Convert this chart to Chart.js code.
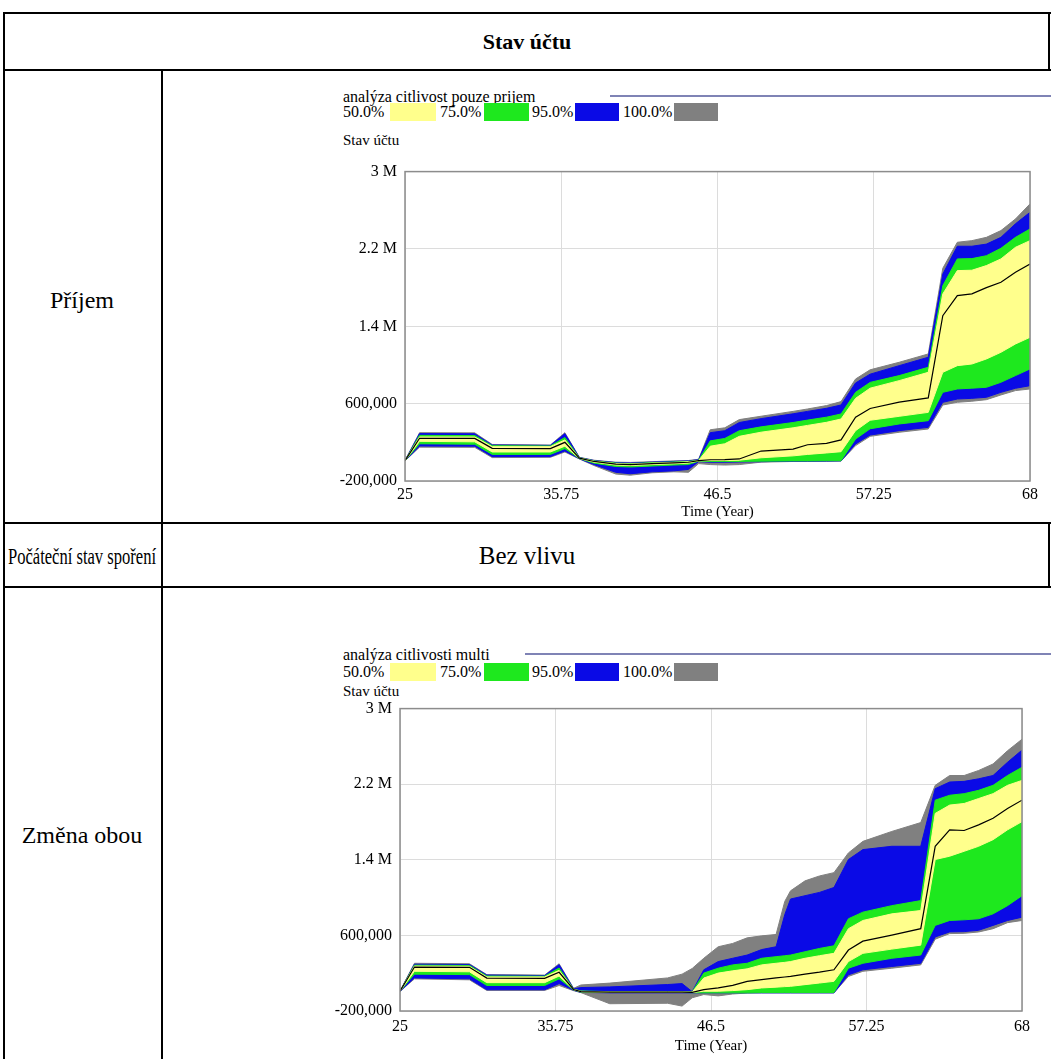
<!DOCTYPE html>
<html>
<head>
<meta charset="utf-8">
<script src="https://cdn.jsdelivr.net/npm/chart.js@4.4.1/dist/chart.umd.min.js"></script>
<style>
  body { margin: 0; background: #fff; font-family: "Liberation Serif", "DejaVu Serif", serif; }
  #page { position: relative; width: 1051px; height: 1059px; overflow: hidden; background: #fff; }
  .ln { position: absolute; background: #000; }
  .cell { position: absolute; font-size: 24px; color: #000; white-space: nowrap; transform: translate(-50%, -50%); }
  .small { position: absolute; font-size: 16px; color: #000; white-space: nowrap; transform: translateY(-50%); }
  .box { position: absolute; }
  .leg { position: absolute; height: 2px; background: #7f83b5; }
  .wrap { position: absolute; }
</style>
</head>
<body>
<div id="page">
  <!-- table lines -->
  <div class="ln" style="left:3px; top:12px; width:1048px; height:2px;"></div>
  <div class="ln" style="left:3px; top:69px; width:1048px; height:2px;"></div>
  <div class="ln" style="left:3px; top:522px; width:1048px; height:2px;"></div>
  <div class="ln" style="left:3px; top:586px; width:1048px; height:2px;"></div>
  <div class="ln" style="left:3px; top:12px; width:2px; height:1047px;"></div>
  <div class="ln" style="left:161px; top:70px; width:2px; height:989px;"></div>
  <div class="ln" style="left:1048px; top:12px; width:2px; height:59px;"></div>
  <div class="ln" style="left:1048px; top:522px; width:2px; height:66px;"></div>

  <div class="cell" style="left:527px; top:42px; font-weight:bold; font-size:22px;">Stav účtu</div>
  <div class="cell" style="left:82px; top:300px;">Příjem</div>
  <div class="cell" style="left:82px; top:556px; transform: translate(-50%, -50%) scaleX(0.69);">Počáteční stav spoření</div>
  <div class="cell" style="left:527px; top:556px; font-size:25px;">Bez vlivu</div>
  <div class="cell" style="left:82px; top:835px;">Změna obou</div>

  <!-- chart 1 header -->
  <div class="small" style="left:343px; top:97px;">analýza citlivost pouze prijem</div>
  <div class="leg" style="left:610px; top:95px; width:441px;"></div>
  <div class="small" style="left:343px; top:112px;">50.0%</div>
  <div class="box" style="left:390px; top:103px; width:46px; height:18px; background:#ffff8c;"></div>
  <div class="small" style="left:440px; top:112px;">75.0%</div>
  <div class="box" style="left:484px; top:103px; width:45px; height:18px; background:#1ee81e;"></div>
  <div class="small" style="left:532px; top:112px;">95.0%</div>
  <div class="box" style="left:575px; top:103px; width:44px; height:18px; background:#0a0ae6;"></div>
  <div class="small" style="left:623px; top:112px;">100.0%</div>
  <div class="box" style="left:674px; top:103px; width:44px; height:18px; background:#808080;"></div>
  <div class="small" style="left:343px; top:140px; font-size:15px;">Stav účtu</div>
  <div class="wrap" style="left:330px; top:154px; width:715px; height:371px;"><canvas id="c1"></canvas></div>

  <!-- chart 2 header -->
  <div class="small" style="left:343px; top:655px;">analýza citlivosti multi</div>
  <div class="leg" style="left:525px; top:653px; width:526px;"></div>
  <div class="small" style="left:343px; top:672px;">50.0%</div>
  <div class="box" style="left:390px; top:663px; width:46px; height:18px; background:#ffff8c;"></div>
  <div class="small" style="left:440px; top:672px;">75.0%</div>
  <div class="box" style="left:484px; top:663px; width:45px; height:18px; background:#1ee81e;"></div>
  <div class="small" style="left:532px; top:672px;">95.0%</div>
  <div class="box" style="left:575px; top:663px; width:44px; height:18px; background:#0a0ae6;"></div>
  <div class="small" style="left:623px; top:672px;">100.0%</div>
  <div class="box" style="left:674px; top:663px; width:44px; height:18px; background:#808080;"></div>
  <div class="small" style="left:343px; top:691px; font-size:15px;">Stav účtu</div>
  <div class="wrap" style="left:325px; top:691px; width:712px; height:368px;"><canvas id="c2"></canvas></div>
</div>

<script>
// values in thousands
const xTicks = [25, 35.75, 46.5, 57.25, 68];
const yTicks = [-200, 600, 1400, 2200, 3000];
const yTickLabels = ['-200,000', '600,000', '1.4 M', '2.2 M', '3 M'];

// Příjem
const t1 = [25, 26, 29.8, 31, 35, 36, 37, 38, 39.5, 40.5, 42, 43.5, 44.5, 45.2, 46, 47, 48, 49.5, 51.7, 52.7, 54, 55, 56, 57, 59, 61, 62, 63, 64, 65, 66, 67, 68];
const p1hi100 = [12, 300, 298, 178, 172, 300, 45, 15, -5, -8, 0, 8, 12, 25, 330, 350, 435, 470, 520, 545, 580, 621, 855, 950, 1028, 1114, 2000, 2269, 2286, 2320, 2390, 2510, 2666];
const p1hi95 = [11, 290, 288, 172, 168, 290, 42, 12, -10, -14, -5, 3, 8, 20, 300, 320, 405, 445, 495, 520, 552, 586, 814, 905, 993, 1080, 1940, 2228, 2228, 2250, 2320, 2460, 2579];
const p1hi75 = [10, 272, 270, 165, 162, 250, 40, 8, -15, -20, -10, -3, 2, 15, 215, 240, 320, 360, 405, 430, 460, 493, 717, 820, 890, 976, 1820, 2097, 2100, 2130, 2207, 2320, 2407];
const p1hi50 = [10, 255, 255, 155, 155, 225, 38, 5, -20, -25, -15, -8, -2, 12, 160, 185, 262, 305, 350, 375, 407, 441, 655, 760, 838, 924, 1735, 1976, 1980, 2028, 2097, 2217, 2286];
const p1med = [10, 242, 240, 138, 135, 200, 36, 2, -25, -30, -20, -12, -6, 10, 20, 22, 28, 110, 130, 175, 190, 225, 460, 550, 615, 660, 1510, 1717, 1735, 1800, 1855, 1959, 2045];
const p1lo50 = [10, 210, 205, 100, 100, 160, 34, -5, -35, -40, -30, -22, -15, 8, 12, 12, 15, 40, 60, 75, 90, 103, 321, 428, 469, 510, 924, 993, 1010, 1062, 1131, 1217, 1286];
const p1lo75 = [9, 185, 180, 75, 75, 135, 32, -15, -50, -55, -45, -35, -30, 5, 2, 2, 2, 5, 8, 8, 10, 10, 234, 340, 390, 424, 717, 752, 760, 769, 821, 890, 959];
const p1lo95 = [8, 162, 160, 52, 52, 110, 30, -30, -110, -125, -105, -95, -80, 0, -5, -5, -3, 0, 5, 5, 6, 8, 183, 275, 321, 355, 614, 648, 655, 666, 717, 759, 786];
const p1lo100 = [8, 150, 148, 42, 45, 100, 28, -40, -128, -140, -115, -105, -110, -20, -30, -35, -30, -5, 2, 3, 4, 6, 166, 262, 304, 338, 586, 614, 625, 641, 690, 735, 752];

// Změna obou
const t2 = [25, 26, 29.8, 31, 35, 36, 37, 37.5, 39.5, 43.5, 44.5, 45.2, 46, 47, 48, 49, 50, 51, 51.6, 52, 53, 54, 55, 56, 57, 59, 61, 62, 63, 64, 65, 66, 67, 68];
const p2hi100 = [12, 305, 300, 185, 180, 300, 40, 75, 95, 150, 190, 250, 358, 480, 515, 574, 595, 610, 960, 1072, 1177, 1229, 1264, 1473, 1595, 1700, 1794, 2188, 2292, 2292, 2345, 2414, 2554, 2676];
const p2hi95 = [11, 295, 292, 180, 175, 290, 35, 48, 55, 80, 90, 5, 236, 323, 358, 392, 450, 480, 820, 985, 1020, 1055, 1107, 1403, 1508, 1543, 1543, 2153, 2223, 2230, 2257, 2292, 2432, 2561];
const p2hi75 = [10, 285, 282, 170, 168, 255, 32, 12, 5, 5, 5, 2, 201, 253, 288, 305, 358, 375, 385, 392, 427, 462, 490, 776, 846, 915, 968, 2031, 2083, 2100, 2135, 2188, 2292, 2379];
const p2hi50 = [10, 275, 272, 160, 160, 230, 30, 8, 2, 2, 2, 0, 149, 201, 225, 246, 288, 305, 315, 323, 358, 385, 410, 671, 758, 828, 863, 1891, 1979, 1996, 2048, 2100, 2188, 2240];
const p2med = [10, 265, 262, 148, 145, 210, 28, 5, 0, 0, 0, -2, 26, 44, 72, 114, 131, 150, 160, 166, 190, 211, 236, 445, 539, 602, 671, 1543, 1717, 1710, 1770, 1839, 1944, 2031];
const p2lo50 = [10, 220, 215, 100, 100, 170, 26, 3, -2, -2, -2, -4, 9, 9, 16, 26, 44, 52, 58, 61, 79, 96, 114, 323, 410, 455, 497, 1403, 1438, 1490, 1543, 1613, 1717, 1804];
const p2lo75 = [9, 190, 185, 70, 70, 140, 24, 0, -4, -4, -4, -6, -8, -8, -8, -8, -5, -5, -5, -5, -5, -5, -5, 253, 305, 358, 392, 706, 758, 765, 776, 828, 915, 1020];
const p2lo95 = [8, 150, 140, 25, 25, 90, 20, -3, -8, -8, -8, -8, -8, -8, -8, -8, -8, -8, -8, -8, -8, -8, -8, 183, 236, 271, 305, 584, 637, 640, 654, 706, 758, 793];
const p2lo100 = [8, 140, 130, 18, 18, 70, 15, -5, -123, -118, -148, -60, -26, -40, -20, -10, -8, -8, -8, -8, -8, -8, -8, 166, 220, 253, 288, 560, 619, 622, 636, 671, 735, 758];

const YELLOW = '#ffff8c', GREEN = '#1ee81e', BLUE = '#0a0ae6', GRAY = '#808080';
const FONT = "'Liberation Serif', 'DejaVu Serif', serif";

function pts(t, v) {
    return t.map((x, i) => ({ x: x, y: v[i] }));
}

function band(t, v, color, fill) {
    return {
        data: pts(t, v),
        borderColor: color,
        backgroundColor: color,
        borderWidth: 1,
        pointRadius: 0,
        tension: 0,
        fill: fill ? '+1' : false
    };
}

// grey frame round the plot area
const frame = {
    id: 'frame',
    afterDatasetsDraw(chart) {
        const a = chart.chartArea;
        const ctx = chart.ctx;
        ctx.save();
        ctx.strokeStyle = '#8c8c8c';
        ctx.lineWidth = 1.5;
        ctx.strokeRect(a.left, a.top, a.right - a.left, a.bottom - a.top);
        ctx.restore();
    }
};

function makeChart(id, t, s, xh, tickPad, titlePad) {
    const ctx = document.getElementById(id).getContext('2d');
    return new Chart(ctx, {
        type: 'line',
        data: {
            datasets: [
                { data: pts(t, s.med), borderColor: '#000', borderWidth: 1.2, pointRadius: 0, tension: 0, fill: false },
                band(t, s.hi50, YELLOW, true), band(t, s.lo50, YELLOW, false),
                band(t, s.hi75, GREEN, true), band(t, s.lo75, GREEN, false),
                band(t, s.hi95, BLUE, true), band(t, s.lo95, BLUE, false),
                band(t, s.hi100, GRAY, true), band(t, s.lo100, GRAY, false)
            ]
        },
        options: {
            responsive: true,
            maintainAspectRatio: false,
            animation: false,
            layout: { padding: { top: 0, right: 15, left: 0, bottom: 0 } },
            plugins: { legend: { display: false }, tooltip: { enabled: false } },
            scales: {
                x: {
                    type: 'linear',
                    min: 25,
                    max: 68,
                    afterBuildTicks: (sc) => { sc.ticks = xTicks.map(v => ({ value: v })); },
                    afterFit: (sc) => { sc.height = xh; },
                    ticks: { font: { family: FONT, size: 16 }, color: '#000', padding: tickPad, maxRotation: 0,
                        callback: (v) => String(v) },
                    grid: { color: '#dcdcdc', drawTicks: false },
                    border: { display: false },
                    title: { display: true, text: 'Time (Year)', font: { family: FONT, size: 15 }, color: '#000',
                        padding: { top: 0, bottom: titlePad } }
                },
                y: {
                    min: -200,
                    max: 3000,
                    afterBuildTicks: (sc) => { sc.ticks = yTicks.map(v => ({ value: v })); },
                    afterFit: (sc) => { sc.width = 75; },
                    ticks: { font: { family: FONT, size: 16 }, color: '#000', padding: 8,
                        callback: (v) => yTickLabels[yTicks.indexOf(v)] },
                    grid: { color: '#dcdcdc', drawTicks: false },
                    border: { display: false }
                }
            }
        },
        plugins: [frame]
    });
}

makeChart('c1', t1, { hi100: p1hi100, hi95: p1hi95, hi75: p1hi75, hi50: p1hi50, med: p1med,
    lo50: p1lo50, lo75: p1lo75, lo95: p1lo95, lo100: p1lo100 }, 44, 4, 4);
makeChart('c2', t2, { hi100: p2hi100, hi95: p2hi95, hi75: p2hi75, hi50: p2hi50, med: p2med,
    lo50: p2lo50, lo75: p2lo75, lo95: p2lo95, lo100: p2lo100 }, 48, 6, 4);
</script>
</body>
</html>
